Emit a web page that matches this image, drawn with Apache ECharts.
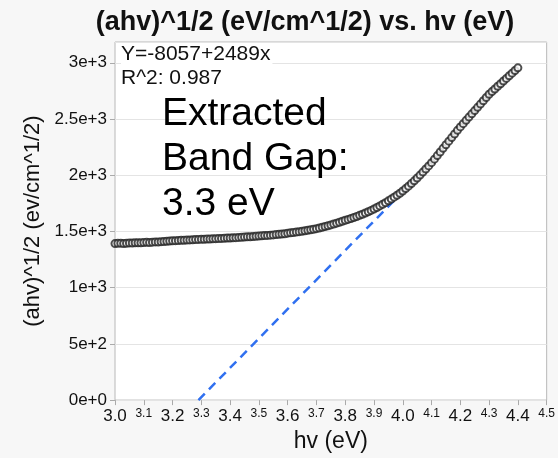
<!DOCTYPE html>
<html lang="en">
<head>
    <meta charset="UTF-8">
    <title>Band Gap</title>
    <script src="https://cdn.jsdelivr.net/npm/echarts@6/dist/echarts.min.js"></script>
    <style>
        html, body { margin: 0; padding: 0; background: #f7f7f7; }
        #main { width: 558px; height: 458px; }
    </style>
</head>
<body>
    <div id="main"></div>
    <script>
        // photon energy, start and step (eV)
        var hvStart = 3.00;
        var hvStep = 0.01;
        // (ahv)^1/2, one per 0.01 eV from 3.00 to 4.40
        var tauc = [
            1392, 1394, 1396, 1393, 1395, 1398, 1397, 1399, 1400, 1399,
            1401, 1403, 1402, 1405, 1407, 1406, 1409, 1411, 1413, 1415,
            1417, 1418, 1420, 1422, 1421, 1423, 1425, 1426, 1428, 1429,
            1430, 1431, 1433, 1432, 1434, 1436, 1437, 1438, 1440, 1441,
            1442, 1444, 1445, 1447, 1448, 1450, 1452, 1453, 1455, 1457,
            1459, 1461, 1463, 1465, 1467, 1469, 1472, 1474, 1477, 1480,
            1485, 1488, 1491, 1494, 1498, 1502, 1506, 1511, 1515, 1520,
            1525, 1531, 1537, 1544, 1551, 1558, 1566, 1574, 1582, 1591,
            1600, 1607, 1615, 1624, 1633, 1643, 1653, 1664, 1675, 1687,
            1700, 1713, 1727, 1741, 1756, 1772, 1788, 1805, 1822, 1840,
            1860, 1881, 1903, 1926, 1950, 1975, 2001, 2028, 2055, 2083,
            2112, 2143, 2175, 2207, 2239, 2271, 2303, 2335, 2367, 2399,
            2430, 2459, 2488, 2517, 2546, 2575, 2604, 2633, 2662, 2691,
            2720, 2744, 2767, 2791, 2814, 2838, 2861, 2885, 2908, 2932,
            2955
        ];
        // end points of the dashed linear fit
        var fitX = [3.29, 4.06];
        var fitY = [0, 2010];

        var yTickLabels = {0: '0e+0', 500: '5e+2', 1000: '1e+3', 1500: '1.5e+3',
                           2000: '2e+3', 2500: '2.5e+3', 3000: '3e+3'};

        var pts = [];
        for (var i = 0; i < tauc.length; i++) {
            pts.push([+(hvStart + i * hvStep).toFixed(2), tauc[i]]);
        }
        var fitLine = [[fitX[0], fitY[0]], [fitX[1], fitY[1]]];

        var font = 'Liberation Sans';
        var chart = echarts.init(document.getElementById('main'));
        chart.setOption({
            backgroundColor: '#f7f7f7',
            animation: false,
            title: {
                text: '(ahv)^1/2 (eV/cm^1/2) vs. hv (eV)',
                left: 300, top: 4, textAlign: 'center',
                textStyle: { fontFamily: font, fontWeight: 'bold', fontSize: 27, color: '#111' }
            },
            grid: {
                left: 115, right: 9, top: 42, bottom: 56,
                show: true, backgroundColor: '#fff', borderColor: '#b8b8b8', borderWidth: 1
            },
            xAxis: {
                type: 'value', min: 3.0, max: 4.5, interval: 0.1,
                name: 'hv (eV)', nameLocation: 'middle', nameGap: 29,
                nameTextStyle: { fontFamily: font, fontSize: 23, color: '#111' },
                axisLine: { show: false },
                axisTick: { show: true, length: 5, lineStyle: { color: '#aaa' } },
                splitLine: { show: false },
                axisLabel: {
                    margin: 8, showMaxLabel: true,
                    formatter: function (v) {
                        var k = Math.round(v * 10);
                        var s = (k / 10).toFixed(1);
                        return k % 2 === 0 ? '{a|' + s + '}' : '{b|' + s + '}';
                    },
                    rich: {
                        a: { fontFamily: font, fontSize: 17, color: '#111' },
                        b: { fontFamily: font, fontSize: 12, color: '#111' }
                    }
                }
            },
            yAxis: {
                type: 'value', min: 0, max: 3185, interval: 500,
                name: '(ahv)^1/2 (ev/cm^1/2)', nameLocation: 'middle', nameGap: 70,
                nameTextStyle: { fontFamily: font, fontSize: 22, color: '#111' },
                axisLine: { show: false },
                axisTick: { show: true, length: 5, lineStyle: { color: '#aaa' } },
                splitLine: { show: true, lineStyle: { color: '#e4e4e4', width: 1 } },
                axisLabel: {
                    margin: 8, showMaxLabel: false,
                    fontFamily: font, fontSize: 17, color: '#111',
                    formatter: function (v) { return yTickLabels[v] || ''; }
                }
            },
            graphic: [
                { type: 'text', left: 121, top: 44, z: 10,
                  style: { text: 'Y=-8057+2489x', fontFamily: font, fontSize: 21, fill: '#111',
                           backgroundColor: '#fff', padding: [0, 2, 0, 0] } },
                { type: 'text', left: 121, top: 68, z: 10,
                  style: { text: 'R^2: 0.987', fontFamily: font, fontSize: 21, fill: '#111' } },
                { type: 'text', left: 162, top: 92, z: 10,
                  style: { text: 'Extracted\nBand Gap:\n3.3 eV', fontFamily: font, fontSize: 39,
                           lineHeight: 45, fill: '#000' } }
            ],
            series: [
                {
                    type: 'line', data: fitLine, symbol: 'none', z: 3,
                    lineStyle: { color: '#3070f0', width: 2.5, type: [9, 6] }
                },
                {
                    type: 'scatter', data: pts, symbol: 'emptyCircle', symbolSize: 7, z: 4,
                    itemStyle: { color: '#222', borderColor: '#222', borderWidth: 1.3 }
                }
            ]
        });
    </script>
</body>
</html>
